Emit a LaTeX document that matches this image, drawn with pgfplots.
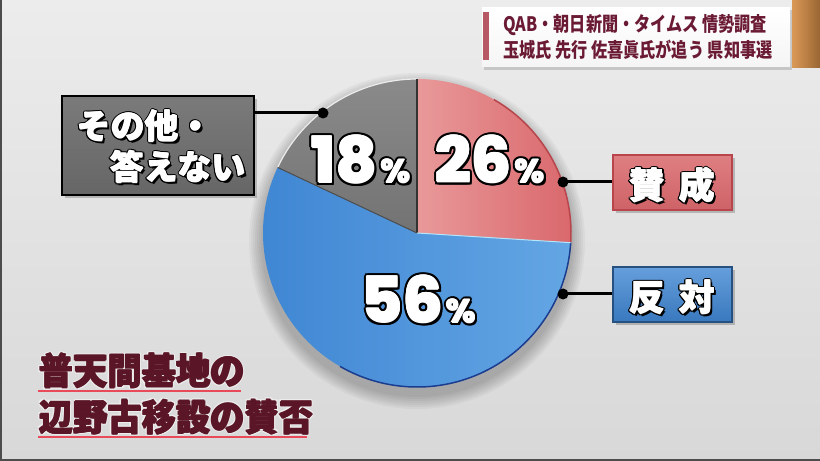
\documentclass[border=0pt]{standalone}
\usepackage{pgfplots}
\pgfplotsset{compat=1.18}
\usepackage{pgfplotstable}
\usepackage{graphicx}
\usepackage{fontspec}
\newfontfamily\cjk{Noto Sans CJK JP}
\newfontfamily\numfont{Poppins}[UprightFont={* ExtraBold}]

\definecolor{bgtop}{HTML}{ECECEC}
\definecolor{bgbot}{HTML}{D8D8D8}
\definecolor{redA}{HTML}{E9999A}
\definecolor{redB}{HTML}{D9686C}
\definecolor{redEdge}{HTML}{B8454C}
\definecolor{bluA}{HTML}{3F86D3}
\definecolor{bluB}{HTML}{64A6E4}
\definecolor{bluEdge}{HTML}{1B3D8F}
\definecolor{gryA}{HTML}{8A8A8A}
\definecolor{gryB}{HTML}{737373}
\definecolor{maroon}{HTML}{5A1526}
\definecolor{headtxt}{HTML}{6B1A33}
\definecolor{uline}{HTML}{E94A5A}

% survey shares (percent)
\pgfplotstableread{
key pct
yes 26
no 56
other 18
}\piedata

% white text with a dark rim and a small drop shadow
\newcommand\otext[3]{%
  \node[anchor=base west,inner sep=0,text=black,shift={(2.5bp,-2.5bp)}] at (#1) {#3};
  \foreach \ang in {0,30,...,330}
    {\node[anchor=base west,inner sep=0,text=black,shift={(\ang:#2)}] at (#1) {#3};}
  \foreach \ang in {0,90,180,270}
    {\node[anchor=base west,inner sep=0,text=white,shift={(\ang:0.5bp)}] at (#1) {#3};}}
% maroon title text with a thin light edge
\newcommand\ttext[2]{%
  \foreach \ang in {0,45,...,315}
    {\node[anchor=base west,inner sep=0,text=white!93!black,shift={(\ang:1.8bp)}] at (#1) {\scalebox{0.93}[1]{#2}};}
  \foreach \ang in {0,90,180,270}
    {\node[anchor=base west,inner sep=0,text=maroon,shift={(\ang:0.7bp)}] at (#1) {\scalebox{0.93}[1]{#2}};}}

\begin{document}
\begin{tikzpicture}[x=1bp,y=-1bp]
\pgfplotstablegetelem{0}{pct}\of\piedata \let\pYes\pgfplotsretval
\pgfplotstablegetelem{1}{pct}\of\piedata \let\pNo\pgfplotsretval
\pgfplotstablegetelem{2}{pct}\of\piedata \let\pOther\pgfplotsretval
\pgfmathsetmacro\aB{90-3.6*\pYes}
\pgfmathsetmacro\aC{\aB-3.6*\pNo}
\pgfmathsetmacro\aD{\aC-3.6*\pOther}
\def\cx{417}\def\cy{233}\def\R{154}

% background
\useasboundingbox (0,0) rectangle (820,461);
\shade[top color=bgtop,bottom color=bgbot] (0,0) rectangle (820,461);
\fill[black!70] (0,0) rectangle (2,461);
\fill[black!70] (0,459) rectangle (820,461);
% soft shadow under the pie
\foreach \k in {0,...,6}
  {\fill[black,opacity=0.035] (\cx,\cy+8) circle[radius={(\R+2+2*\k)*1bp}];}

\begin{axis}[at={(0bp,-461bp)}, anchor=south west, scale only axis,
  width=820bp, height=461bp, xmin=0, xmax=820, ymin=0, ymax=461,
  y dir=reverse, hide axis, clip=false]
  % slices
  \path[left color=redA,right color=redB]
    (axis cs:\cx,\cy) -- (axis cs:{\cx+\R*cos(90)},{\cy-\R*sin(90)})
    arc[start angle=90,end angle=\aB,radius=154bp] -- cycle;
  \path[left color=bluA,right color=bluB]
    (axis cs:\cx,\cy) -- (axis cs:{\cx+\R*cos(\aB)},{\cy-\R*sin(\aB)})
    arc[start angle=\aB,end angle=\aC,radius=154bp] -- cycle;
  \path[top color=gryA,bottom color=gryB]
    (axis cs:\cx,\cy) -- (axis cs:{\cx+\R*cos(\aC)},{\cy-\R*sin(\aC)})
    arc[start angle=\aC,end angle=\aD,radius=154bp] -- cycle;
  % rims
  \draw[redEdge,line width=1.5bp] (axis cs:{\cx+\R*cos(60)},{\cy-\R*sin(60)})
    arc[start angle=60,end angle=\aB,radius=154bp];
  \draw[bluEdge,line width=1.5bp] (axis cs:{\cx+\R*cos(\aB)},{\cy-\R*sin(\aB)})
    arc[start angle=\aB,end angle=-120,radius=154bp];
  \draw[white!85!gray,line width=1.2bp] (axis cs:{\cx+\R*cos(\aC)},{\cy-\R*sin(\aC)})
    arc[start angle=\aC,end angle=\aD,radius=154bp];
  % slice borders
  \draw[black!80,line width=1.2bp] (axis cs:\cx,\cy) -- (axis cs:{\cx+\R*cos(90)},{\cy-\R*sin(90)});
  \draw[black!70,line width=1bp] (axis cs:\cx,\cy) -- (axis cs:{\cx+\R*cos(\aC)},{\cy-\R*sin(\aC)});
  \draw[cyan!30,line width=1bp] (axis cs:\cx,\cy) -- (axis cs:{\cx+\R*cos(\aB)},{\cy-\R*sin(\aB)});
\end{axis}

% percentages
\pgfmathtruncatemacro\tYes{\pYes}
\pgfmathtruncatemacro\tNo{\pNo}
\pgfmathtruncatemacro\tOther{\pOther}
\otext{435,183}{2.5bp}{\numfont\fontsize{64}{64}\selectfont \tYes\kern3bp\fontsize{33}{33}\selectfont\%}
\otext{311,183}{2.5bp}{\numfont\fontsize{64}{64}\selectfont \tOther\kern3bp\fontsize{33}{33}\selectfont\%}
\otext{361,323}{2.5bp}{\numfont\fontsize{64}{64}\selectfont \tNo\kern3bp\fontsize{33}{33}\selectfont\%}

% leader lines
\draw[black,line width=3bp] (254,113) -- (323,113);
\fill[black] (323,113) circle[radius=5.5bp];
\draw[black,line width=3bp] (563,182) -- (613,182);
\fill[black] (563,182) circle[radius=5.5bp];
\draw[black,line width=3bp] (563,294) -- (613,294);
\fill[black] (563,294) circle[radius=5.5bp];

% label boxes
\fill[black,opacity=0.2] (65,99) rectangle (257,198);
\shade[top color=black!52,bottom color=black!60,draw=black,line width=1.5bp] (62,96) rectangle (254,195);
\otext{77,139}{1.8bp}{\cjk\bfseries\fontsize{34}{34}\selectfont その他・}
\otext{110,180}{1.8bp}{\cjk\bfseries\fontsize{34}{34}\selectfont 答えない}

\fill[black,opacity=0.2] (616,158) rectangle (735,213);
\shade[top color=redB!85!white,bottom color=redB!95!black,draw=redEdge,line width=1.2bp] (613,155) rectangle (732,210);
\otext{629,199}{1.8bp}{\cjk\bfseries\fontsize{36}{36}\selectfont 賛\kern14bp 成}

\fill[black,opacity=0.2] (616,270) rectangle (735,325);
\shade[top color=bluA!80!white,bottom color=bluA!90!black,draw=bluA!60!black,line width=1.2bp] (613,267) rectangle (732,322);
\otext{629,311}{1.8bp}{\cjk\bfseries\fontsize{36}{36}\selectfont 反\kern14bp 対}

% title bottom left
\ttext{39,385}{\cjk\bfseries\fontsize{37}{37}\selectfont 普天間基地の}
\ttext{39,431}{\cjk\bfseries\fontsize{37}{37}\selectfont 辺野古移設の賛否}
\draw[uline,line width=2.5bp] (38,391) -- (241,391);
\draw[uline,line width=2.5bp] (38,437) -- (307,437);

% header
\fill[black,opacity=0.15] (484,10) rectangle (792,70);
\shade[top color=white,bottom color=black!4] (482,8) rectangle (790,67);
\fill[headtxt!70!red!70!white] (483,12) rectangle (489,60);
\node[anchor=base west,inner sep=0,text=headtxt] at (503,32) {\scalebox{0.81}[1]{\cjk\bfseries\fontsize{20}{20}\selectfont QAB・朝日新聞・タイムス 情勢調査}};
\node[anchor=base west,inner sep=0,text=headtxt] at (503,58) {\scalebox{0.81}[1]{\cjk\bfseries\fontsize{20}{20}\selectfont 玉城氏 先行 佐喜眞氏が追う 県知事選}};
\shade[left color=brown!70!orange!80!white,right color=brown!80!black] (792,0) rectangle (820,68);
\end{tikzpicture}
\end{document}
